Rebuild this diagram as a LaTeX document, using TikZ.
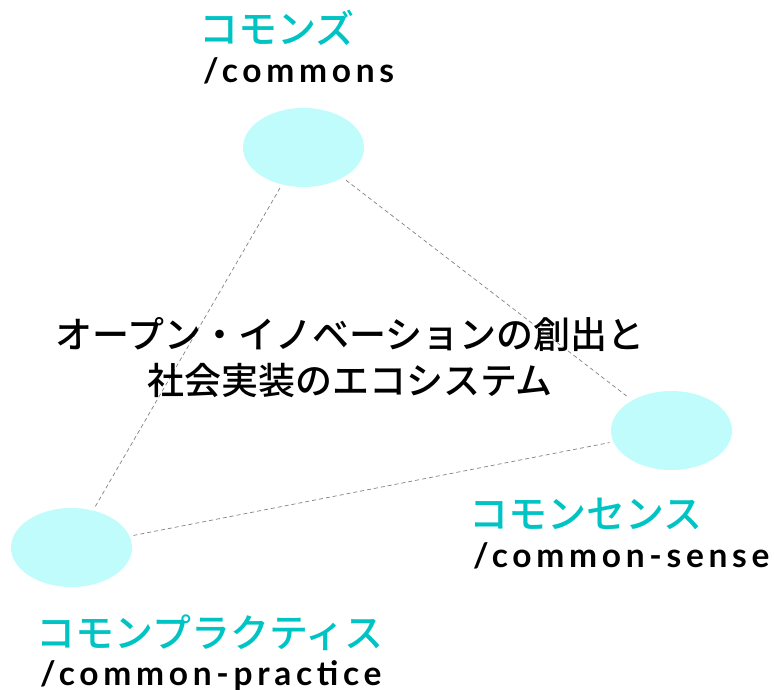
\documentclass[tikz,border=0pt]{standalone}
\usepackage{fontspec}
\setmainfont{Noto Sans CJK JP Medium}
\newfontfamily\enfont[LetterSpace=14]{Lato Bold}
\usetikzlibrary{
    shapes.geometric,
    positioning,
    calc
}
\definecolor{commonteal}{RGB}{0, 195, 195}
\definecolor{commoncyan}{RGB}{192, 252, 252}
\definecolor{linkgray}{RGB}{130, 130, 130}

\begin{document}
\begin{tikzpicture}[x=1pt, y=-1pt,
        corner/.style={ellipse, fill=commoncyan, minimum width=121pt, minimum height=79pt, inner sep=0pt, outer sep=4pt},
        jplabel/.style={anchor=base west, inner sep=0pt, xshift=-4pt, text=commonteal, font=\fontsize{39}{46}\selectfont},
        enlabel/.style={anchor=base west, inner sep=0pt, font=\enfont\fontsize{33.5}{40}\selectfont},
        link/.style={draw=linkgray, line width=0.7pt, dash pattern=on 4pt off 3pt}]
        \useasboundingbox (0,0) rectangle (774,690);

        % Corners with their labels
        \foreach \name/\cx/\cy/\lx/\jy/\ey/\jp/\en in {
            commons/303.5/147.5/203/44/83/コモンズ/commons,
            sense/671.5/430.5/473/528/567/コモンセンス/common-sense,
            practice/71.5/547.5/40/647/685/コモンプラクティス/common-practice} {
            \node[corner] (\name) at (\cx,\cy) {};
            \node[jplabel] (\name-jp) at (\lx,\jy) {\jp};
            \node[enlabel] (\name-en) at (\lx,\ey) {/\en};
        }

        % Links between the corners
        \draw[link] (commons) -- (practice);
        \draw[link] (commons) -- (sense);
        \draw[link] (practice) -- (sense);

        % Title in the middle
        \node[align=center, inner sep=0pt, font=\fontsize{37}{46}\selectfont] (title) at (350,358)
            {オープン・イノベーションの創出と\\社会実装のエコシステム};
    \end{tikzpicture}
\end{document}
